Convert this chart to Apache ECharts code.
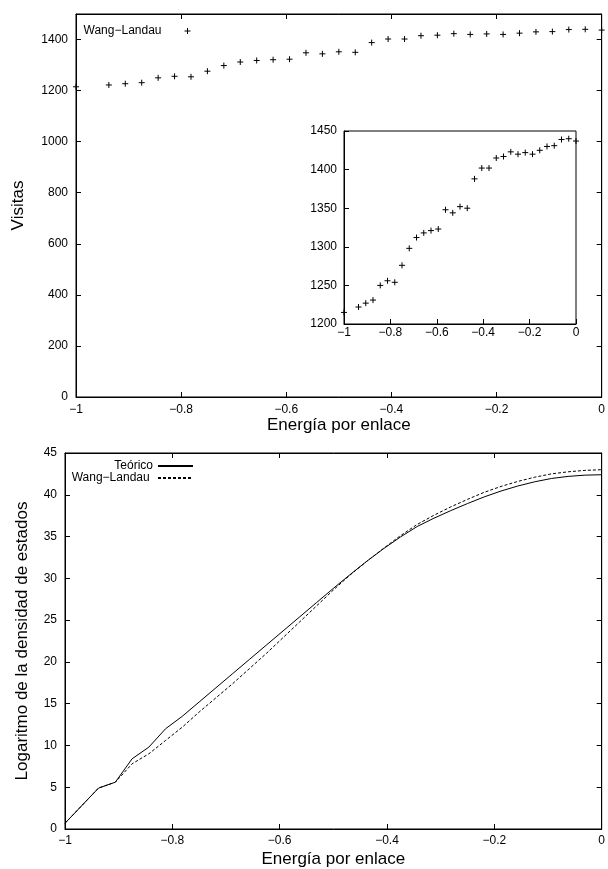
<!DOCTYPE html>
<html><head><meta charset="utf-8">
<script src="https://cdn.jsdelivr.net/npm/echarts@6/dist/echarts.min.js"></script>
<style>html,body{margin:0;padding:0;background:#fff}#c{width:608px;height:869px}</style>
</head><body><div id="c"></div>
<script>
// Energy per bond values (x) for both panels
const energias = [-1, -0.9375, -0.90625, -0.875, -0.84375, -0.8125, -0.78125, -0.75, -0.71875, -0.6875,
  -0.65625, -0.625, -0.59375, -0.5625, -0.53125, -0.5, -0.46875, -0.4375, -0.40625, -0.375,
  -0.34375, -0.3125, -0.28125, -0.25, -0.21875, -0.1875, -0.15625, -0.125, -0.09375, -0.0625, -0.03125, 0];
// Top panel: visits histogram (Wang-Landau)
const visitas = [1215, 1222, 1227, 1231, 1250, 1256, 1254, 1276, 1298, 1312,
  1318, 1321, 1323, 1348, 1344, 1352, 1350, 1388, 1402, 1402,
  1415, 1417, 1423, 1420, 1422, 1420, 1425, 1430, 1431, 1439, 1440, 1437];
// Bottom panel: log density of states
const teorico = [0.69, 4.9, 5.6, 8.4, 9.8, 12.0, 13.5, 15.2, 16.9, 18.6,
  20.3, 22.0, 23.7, 25.4, 27.1, 28.8, 30.45, 32.05, 33.55, 34.95,
  36.2, 37.2, 38.1, 38.95, 39.75, 40.45, 41.05, 41.55, 41.95, 42.2, 42.35, 42.4];
const wangLandau = [0.69, 4.9, 5.6, 7.8, 9.0, 10.6, 12.2, 14.0, 15.7, 17.4,
  19.2, 21.0, 22.9, 24.8, 26.7, 28.6, 30.4, 32.05, 33.6, 35.1,
  36.45, 37.55, 38.55, 39.45, 40.3, 41.0, 41.6, 42.1, 42.5, 42.75, 42.92, 43.0];

const nombreWL = 'Wang\u2212Landau';
const nombreTeo = 'Te\u00f3rico';
const tituloX = 'Energ\u00eda por enlace';

const FONT = '"Liberation Sans", Arial, Helvetica, sans-serif';
const fmt = v => String(v).replace('-', '\u2212');
const pts = (xs, ys) => xs.map((x, i) => [x, ys[i]]);
const plus = 'path://M0,5L10,5M5,0L5,10';

function lbl(margin, extra) {
  return Object.assign({ show: true, color: '#000', fontSize: 12, fontFamily: FONT, formatter: fmt, margin: margin }, extra || {});
}
function axisBase(extra) {
  return Object.assign({
    type: 'value',
    axisLine: { show: true, onZero: false, lineStyle: { color: '#000', width: 1 } },
    axisTick: { show: true, inside: true, length: 5, lineStyle: { color: '#000', width: 1 } },
    axisLabel: lbl(8),
    splitLine: { show: false },
    nameTextStyle: { color: '#000', fontSize: 17, fontFamily: FONT }
  }, extra);
}
function mirror(extra) {
  const a = axisBase(extra);
  a.axisLabel = { show: false };
  return a;
}

const chart = echarts.init(document.getElementById('c'), null, { renderer: 'canvas' });
chart.setOption({
  animation: false,
  backgroundColor: '#fff',
  grid: [
    { left: 76, top: 14, width: 530, height: 383, show: true, borderColor: '#000', borderWidth: 1, backgroundColor: 'transparent' },
    { left: 344, top: 131, width: 232, height: 193, show: true, borderColor: '#000', borderWidth: 1, backgroundColor: '#fff' },
    { left: 65, top: 453, width: 539, height: 378, show: true, borderColor: '#000', borderWidth: 1, backgroundColor: 'transparent' }
  ],
  xAxis: [
    axisBase({ gridIndex: 0, min: -1, max: 0, interval: 0.2, position: 'bottom', name: tituloX, nameLocation: 'middle', nameGap: 20, axisLabel: lbl(7) }),
    mirror({ gridIndex: 0, min: -1, max: 0, interval: 0.2, position: 'top' }),
    axisBase({ gridIndex: 1, min: -1, max: 0, interval: 0.2, position: 'bottom', axisLabel: lbl(3) }),
    axisBase({ gridIndex: 2, min: -1, max: 0, interval: 0.2, position: 'bottom', name: tituloX, nameLocation: 'middle', nameGap: 22, axisLabel: lbl(6) }),
    mirror({ gridIndex: 2, min: -1, max: 0, interval: 0.2, position: 'top' })
  ],
  yAxis: [
    axisBase({ gridIndex: 0, min: 0, max: 1500, interval: 200, position: 'left', name: 'Visitas', nameLocation: 'middle', nameGap: 49,
      axisLabel: lbl(8, { showMaxLabel: false }) }),
    mirror({ gridIndex: 0, min: 0, max: 1500, interval: 200, position: 'right' }),
    axisBase({ gridIndex: 1, min: 1200, max: 1450, interval: 50, position: 'left', axisLabel: lbl(7) }),
    axisBase({ gridIndex: 2, min: 0, max: 45, interval: 5, position: 'left', name: 'Logaritmo de la densidad de estados', nameLocation: 'middle', nameGap: 34,
      axisLabel: lbl(8) }),
    mirror({ gridIndex: 2, min: 0, max: 45, interval: 5, position: 'right' })
  ],
  legend: [
    { data: [nombreWL], orient: 'horizontal', align: 'right', right: 412, top: 20, itemWidth: 42, itemHeight: 6,
      itemStyle: { color: 'transparent', borderColor: '#000', borderWidth: 1 },
      textStyle: { color: '#000', fontSize: 12, fontFamily: FONT, lineHeight: 12 }, selectedMode: false },
    { data: [nombreTeo, nombreWL + ' '], orient: 'vertical', align: 'right', right: 409, top: 455, itemWidth: 35, itemHeight: 12, itemGap: 0,
      itemStyle: { color: 'transparent', borderColor: 'transparent', borderWidth: 0, opacity: 0 },
      textStyle: { color: '#000', fontSize: 12, fontFamily: FONT, lineHeight: 12 }, selectedMode: false }
  ],
  series: [
    { type: 'scatter', name: nombreWL, xAxisIndex: 0, yAxisIndex: 0, data: pts(energias, visitas), symbol: plus, symbolSize: 6,
      itemStyle: { color: 'transparent', borderColor: '#000', borderWidth: 1, opacity: 1 }, silent: true },
    { type: 'scatter', name: 'inset', xAxisIndex: 2, yAxisIndex: 2, data: pts(energias, visitas), symbol: plus, symbolSize: 6,
      itemStyle: { color: 'transparent', borderColor: '#000', borderWidth: 1, opacity: 1 }, silent: true },
    { type: 'line', name: nombreTeo, xAxisIndex: 3, yAxisIndex: 3, data: pts(energias, teorico), symbol: 'none', showSymbol: false,
      lineStyle: { color: '#000', width: 1, type: 'solid' }, itemStyle: { color: '#000' }, silent: true },
    { type: 'line', name: nombreWL + ' ', xAxisIndex: 3, yAxisIndex: 3, data: pts(energias, wangLandau), symbol: 'none', showSymbol: false,
      lineStyle: { color: '#000', width: 1, type: [3, 2] }, itemStyle: { color: '#000' }, silent: true }
  ]
});
</script>
</body></html>
